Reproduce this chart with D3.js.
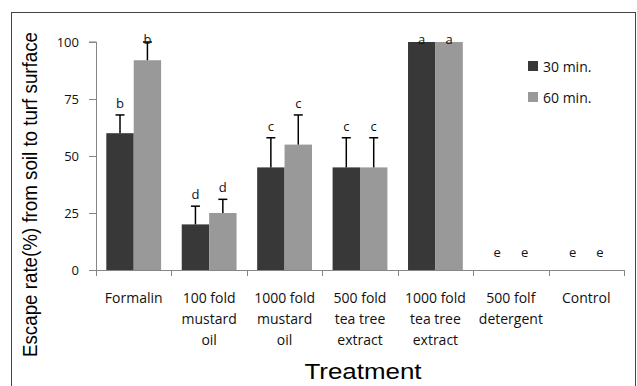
<!DOCTYPE html>
<html><head><meta charset="utf-8">
<script src="https://cdn.jsdelivr.net/npm/d3@7"></script>
<style>body{margin:0;background:#fff}svg{display:block}</style>
</head><body>
<svg id="c" width="637" height="386"></svg>
<script>
const categories = [["Formalin"],["100 fold","mustard","oil"],["1000 fold","mustard","oil"],["500 fold","tea tree","extract"],["1000 fold","tea tree","extract"],["500 folf","detergent"],["Control"]];
const seriesNames = ["30 min.","60 min."];
const values30 = [60, 20, 45, 45, 100, 0, 0];
const values60 = [92, 25, 55, 45, 100, 0, 0];
const err30 = [8, 8, 13, 13, 0, 0, 0];
const err60 = [8, 6, 13, 13, 0, 0, 0];
const letters30 = ["b","d","c","c","a","e","e"];
const letters60 = ["b","d","c","c","a","e","e"];
const yTicks = [0, 25, 50, 75, 100];

const svg = d3.select("#c");
const colors = ["#383838", "#999999"];
const axisColor = "#868686";
const m = {l: 96, r: 624, t: 42, b: 270};

svg.append("rect").attr("x", 11.5).attr("y", 12.5).attr("width", 624).attr("height", 420)
  .attr("fill", "none").attr("stroke", "#444").attr("stroke-width", 1);

const x = d3.scaleBand().domain(d3.range(categories.length)).range([m.l, m.r]).paddingInner(0).paddingOuter(0);
const xs = d3.scaleBand().domain([0, 1]).range([0, x.bandwidth()]).paddingInner(0).paddingOuter(0.376);
const y = d3.scaleLinear().domain([0, 100]).range([m.b, m.t]);

// y axis
const ya = svg.append("g").attr("transform", `translate(${m.l},0)`)
  .call(d3.axisLeft(y).tickValues(yTicks).tickSize(7).tickPadding(10));
ya.select(".domain").attr("stroke", axisColor).attr("d", `M-7,${y(100)}H0.5V${y(0)}`);
ya.selectAll(".tick line").attr("stroke", axisColor);
ya.selectAll(".tick text").attr("font-family", "Open Sans").attr("font-size", 13).attr("fill", "#111");

// x axis line and ticks
const xg = svg.append("g");
xg.append("line").attr("x1", m.l).attr("x2", m.r).attr("y1", y(0) + 0.5).attr("y2", y(0) + 0.5).attr("stroke", axisColor);
const bounds = d3.range(categories.length + 1).map(i => i < categories.length ? x(i) : x(categories.length - 1) + x.bandwidth());
xg.selectAll("line.t").data(bounds).join("line").attr("class", "t")
  .attr("x1", d => Math.round(d) + 0.5).attr("x2", d => Math.round(d) + 0.5)
  .attr("y1", y(0)).attr("y2", y(0) + 6).attr("stroke", axisColor);

const series = [
  {vals: values30, errs: err30, lets: letters30},
  {vals: values60, errs: err60, lets: letters60}
];

series.forEach((s, si) => {
  const g = svg.append("g");
  const cx = i => x(i) + xs(si);
  g.selectAll("rect").data(s.vals).join("rect")
    .attr("x", (d, i) => cx(i)).attr("width", xs.bandwidth())
    .attr("y", d => y(d)).attr("height", d => y(0) - y(d))
    .attr("fill", colors[si]);
  // error bars
  s.vals.forEach((v, i) => {
    if (s.errs[i] > 0) {
      const mx = cx(i) + xs.bandwidth() / 2;
      g.append("line").attr("x1", mx).attr("x2", mx).attr("y1", y(v)).attr("y2", y(v + s.errs[i]))
        .attr("stroke", "#000").attr("stroke-width", 1.5);
      g.append("line").attr("x1", mx - 4.5).attr("x2", mx + 4.5).attr("y1", y(v + s.errs[i])).attr("y2", y(v + s.errs[i]))
        .attr("stroke", "#000").attr("stroke-width", 1.5);
    }
  });
  // letters
  s.lets.forEach((l, i) => {
    const top = s.vals[i] + s.errs[i];
    const mx = cx(i) + xs.bandwidth() / 2;
    let by;
    if (top === 0) by = y(0) - 13;
    else by = Math.max(y(top) - 7, y(100) + 1.5);
    g.append("text").attr("x", mx).attr("y", by).attr("text-anchor", "middle")
      .attr("font-family", "Open Sans").attr("font-size", 13).attr("fill", "#111").text(l);
  });
});

// category labels
const cl = svg.append("g");
categories.forEach((lines, i) => {
  const t = cl.append("text").attr("text-anchor", "middle").attr("font-family", "Open Sans")
    .attr("font-size", 14).attr("fill", "#111");
  lines.forEach((ln, k) => {
    t.append("tspan").attr("x", x(i) + x.bandwidth() / 2).attr("y", 303 + k * 21).text(ln);
  });
});

// legend
const lg = svg.append("g");
seriesNames.forEach((n, i) => {
  const yy = 72 + i * 31;
  lg.append("rect").attr("x", 528).attr("y", yy - 11).attr("width", 10).attr("height", 10).attr("fill", colors[i]);
  lg.append("text").attr("x", 543).attr("y", yy).attr("font-family", "Open Sans").attr("font-size", 14)
    .attr("fill", "#111").text(n);
});

// axis titles
svg.append("text").attr("transform", "translate(37,194.5) rotate(-90)").attr("text-anchor", "middle")
  .attr("font-family", "Liberation Sans").attr("font-size", 20).attr("fill", "#000")
  .attr("textLength", 325).attr("lengthAdjust", "spacingAndGlyphs")
  .text("Escape rate(%) from soil to turf surface");
svg.append("text").attr("x", 363).attr("y", 379).attr("text-anchor", "middle")
  .attr("font-family", "Liberation Sans").attr("font-size", 22).attr("fill", "#000")
  .attr("textLength", 117).attr("lengthAdjust", "spacingAndGlyphs")
  .text("Treatment");
</script>
</body></html>
